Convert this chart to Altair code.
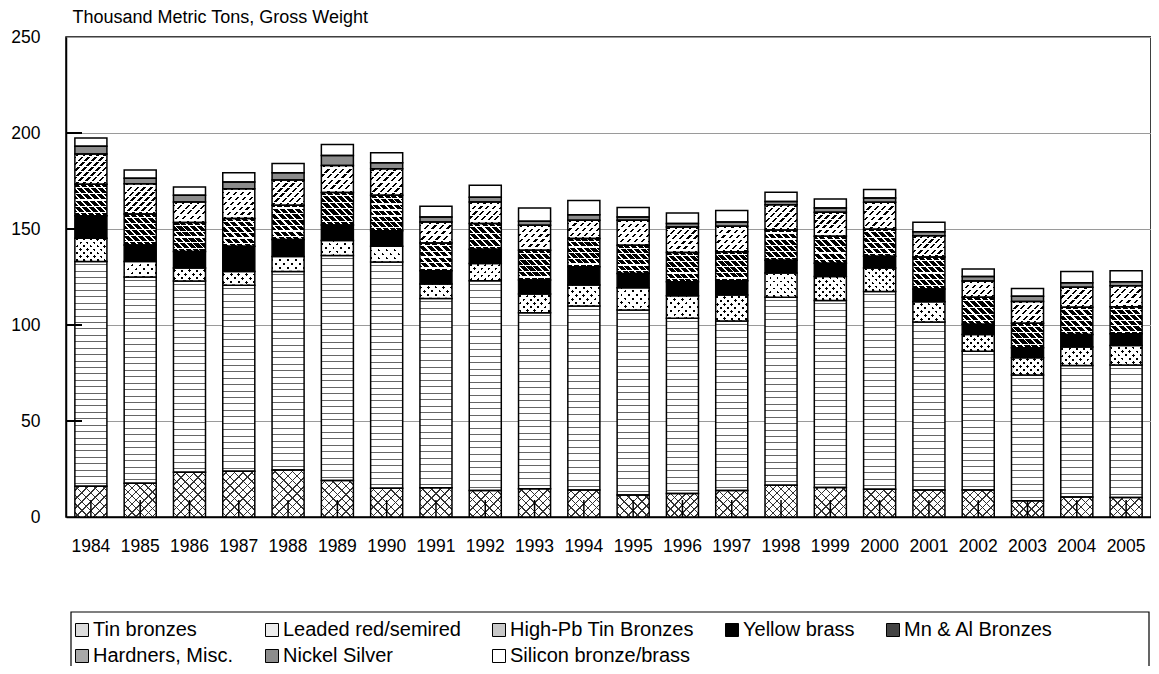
import math
import altair as alt
import pandas as pd

# ---------------- data ----------------
years = [str(y) for y in range(1984, 2006)]
series = ["Tin bronzes", "Leaded red/semired", "High-Pb Tin Bronzes", "Yellow brass",
          "Mn & Al Bronzes", "Hardners, Misc.", "Nickel Silver", "Silicon bronze/brass"]

tin_bronzes = [16.0, 17.6, 23.3, 23.8, 24.5, 19.0, 15.0, 15.2, 13.8, 14.7, 14.0,
               11.4, 12.3, 13.8, 16.6, 15.4, 14.5, 14.0, 14.1, 8.5, 10.4, 10.2]
leaded_red = [117.1, 107.4, 99.6, 96.9, 103.4, 117.2, 117.8, 98.6, 109.2, 91.7, 95.9,
              96.4, 91.2, 88.3, 97.9, 97.4, 103.0, 87.6, 72.2, 65.4, 68.5, 69.0]
high_pb = [12.1, 8.1, 6.8, 7.2, 7.8, 7.8, 8.2, 7.5, 9.0, 9.7, 10.9,
           11.6, 11.7, 13.5, 12.6, 12.5, 12.2, 10.5, 8.8, 9.0, 9.7, 10.1]
yellow_brass = [11.7, 8.6, 8.6, 13.1, 8.8, 8.1, 8.1, 6.9, 7.4, 7.3, 9.5,
                7.4, 7.3, 7.4, 6.6, 6.9, 6.1, 6.7, 5.3, 5.3, 6.5, 6.1]
mn_al = [16.4, 16.1, 15.1, 14.5, 17.9, 16.9, 18.5, 14.5, 13.4, 15.5, 14.7,
         14.7, 15.2, 15.1, 15.8, 14.0, 14.1, 16.6, 14.0, 12.7, 14.2, 14.1]
hardners = [15.8, 15.8, 10.7, 15.5, 13.1, 14.1, 13.8, 10.9, 11.2, 13.0, 9.5,
            13.0, 13.3, 13.3, 13.1, 12.5, 14.0, 11.1, 8.5, 11.4, 10.4, 10.9]
nickel_silver = [4.0, 2.8, 3.5, 3.5, 3.8, 5.2, 3.1, 2.6, 2.6, 2.1, 2.9,
                 1.7, 1.8, 2.2, 1.7, 2.3, 2.3, 2.1, 2.3, 2.7, 2.3, 2.1]
silicon = [4.3, 4.3, 4.3, 4.8, 4.8, 5.7, 5.2, 5.6, 6.2, 6.9, 7.5,
           5.0, 5.5, 6.1, 4.9, 4.6, 4.4, 4.9, 4.0, 4.0, 5.8, 5.8]
values = [tin_bronzes, leaded_red, high_pb, yellow_brass, mn_al, hardners, nickel_silver, silicon]

y_ticks = [50, 100, 150, 200]
y_labels = [0, 50, 100, 150, 200, 250]

# ---------------- style ----------------
legend_colors = ["#dcdcdc", "#ececec", "#c8c8c8", "#000000", "#444444", "#a8a8a8", "#8c8c8c", "#ffffff"]
W, H, YMAX = 1085, 480, 250
PX = H / YMAX
P_IN, P_OUT = 0.35, 0.18
STEP = W / (len(years) - P_IN + 2 * P_OUT)
BAR_W = STEP * (1 - P_IN)
CLEAR = "rgba(255,255,255,0)"


def bands(extent, spacing, thick, line, bg):
    n = max(1, int(round(extent / spacing)))
    period = 1.0 / n
    half = min(0.45 * period, thick / extent / 2.0)
    stops = [{"offset": 0, "color": bg}]
    for k in range(n):
        m = (k + 0.5) * period
        lo, hi = round(m - half, 5), round(m + half, 5)
        stops += [{"offset": lo, "color": bg}, {"offset": lo, "color": line},
                  {"offset": hi, "color": line}, {"offset": hi, "color": bg}]
    stops.append({"offset": 1, "color": bg})
    return stops


def lin(x1, y1, x2, y2, stops):
    return {"gradient": "linear", "x1": x1, "y1": y1, "x2": x2, "y2": y2, "stops": stops}


def horiz(w, h, spacing, thick, line, bg):
    return lin(0, 0, 0, 1, bands(h, spacing, thick, line, bg))


def diag(w, h, spacing, thick, line, bg, up=True):
    k = (1 / h + 1 / w) / (1 / h ** 2 + 1 / w ** 2)
    a, b = k / h, k / w
    ext = (w + h) / math.sqrt(2)
    st = bands(ext, spacing, thick, line, bg)
    if up:
        return lin(0, 0, round(a, 5), round(b, 5), st)
    return lin(0, 1, round(a, 5), round(1 - b, 5), st)


def pattern(name, h, w):
    h = max(h, 1.0)
    if name == "Tin bronzes":
        return (diag(w, h, 6, 1.0, "#333333", "white", True),
                diag(w, h, 6, 1.0, "#333333", CLEAR, False))
    if name == "Leaded red/semired":
        return horiz(w, h, 6.5, 1.0, "#666666", "white"), CLEAR
    if name == "High-Pb Tin Bronzes":
        return (diag(w, h, 5.2, 2.0, "#000000", "white", True),
                diag(w, h, 5.2, 2.0, CLEAR, "white", False))
    if name == "Yellow brass":
        return "#000000", CLEAR
    if name == "Mn & Al Bronzes":
        return (diag(w, h, 5, 3.6, "#000000", "white", False),
                horiz(w, h, 6, 1.2, "white", CLEAR))
    if name == "Hardners, Misc.":
        return (diag(w, h, 5, 1.6, "#000000", "white", True),
                horiz(w, h, 5, 1.5, "white", CLEAR))
    if name == "Nickel Silver":
        return "#8c8c8c", CLEAR
    return "white", CLEAR


rows = []
for s_i, (name, vals) in enumerate(zip(series, values)):
    for yr, v in zip(years, vals):
        f1, f2 = pattern(name, v * PX, BAR_W)
        rows.append({"year": yr, "series": name, "order": s_i, "value": v, "fill1": f1, "fill2": f2})
df = pd.DataFrame(rows)

xaxis = alt.Axis(title=None, labelAngle=0, labelFontSize=17.5, labelPadding=20, ticks=False,
                 domainColor="black", domainWidth=1.5, grid=False, labelColor="black")
yaxis = alt.Axis(title="Thousand Metric Tons, Gross Weight", titleAngle=0, titleAlign="left",
                 titleBaseline="alphabetic", titleX=6, titleY=-15, titleFontSize=18,
                 titleFontWeight="normal", titleColor="black", values=y_labels,
                 labelFontSize=17.5, labelPadding=26, ticks=False, domainColor="black",
                 domainWidth=1.5, grid=True, gridColor="#9a9a9a", gridWidth=1, labelColor="black")
yscale = alt.Scale(domain=[0, YMAX], nice=False, zero=True)
xenc = alt.X("year:N", sort=years, scale=alt.Scale(paddingInner=P_IN, paddingOuter=P_OUT), axis=xaxis)
yenc = alt.Y("y0:Q", scale=yscale, axis=yaxis)

base = alt.Chart(df).transform_stack(
    stack="value", groupby=["year"], as_=["y0", "y1"],
    sort=[alt.SortField("order", order="ascending")])

legend_layer = base.mark_bar(opacity=0).encode(
    x=xenc, y=yenc, y2="y1:Q",
    color=alt.Color("series:N", scale=alt.Scale(domain=series, range=legend_colors),
                    legend=alt.Legend(orient="none", legendX=6, legendY=H + 103, direction="horizontal",
                                      columns=5, columnPadding=28, rowPadding=6, symbolType="square",
                                      symbolSize=169, symbolStrokeColor="black", symbolStrokeWidth=1,
                                      symbolOpacity=1, labelFontSize=20, labelLimit=400, labelOffset=1,
                                      labelColor="black", title=None, padding=0)))
fill_layer = base.mark_bar().encode(
    x=xenc, y=yenc, y2="y1:Q", fill=alt.Fill("fill1:N", scale=None, legend=None))
line_layer = base.mark_bar(stroke="black", strokeWidth=1.5).encode(
    x=xenc, y=yenc, y2="y1:Q", fill=alt.Fill("fill2:N", scale=None, legend=None))

xtick_layer = alt.Chart(pd.DataFrame({"year": years})).mark_rule(color="black", strokeWidth=1.5).encode(
    x=xenc, y=alt.value(H), y2=alt.value(H - 17))
ytick_layer = alt.Chart(pd.DataFrame({"v": y_ticks})).mark_rule(color="black", strokeWidth=2).encode(
    y=alt.Y("v:Q", scale=yscale, axis=yaxis), x=alt.value(0), x2=alt.value(16))
box_layer = alt.Chart(pd.DataFrame({"k": [0]})).mark_rect(fillOpacity=0, stroke="black", strokeWidth=1.2).encode(
    x=alt.value(5), x2=alt.value(W - 2), y=alt.value(H + 95), y2=alt.value(H + 300))

chart = alt.layer(
    legend_layer, fill_layer, line_layer, xtick_layer, ytick_layer, box_layer
).properties(
    width=W, height=H,
    autosize=alt.AutoSizeParams(type="none"),
    padding={"left": 58, "top": 29, "right": 0, "bottom": 149},
).configure(font="Liberation Sans").configure_view(stroke="black", strokeWidth=1.5)

chart.save("out.html", embed_options={"renderer": "svg", "actions": False})
